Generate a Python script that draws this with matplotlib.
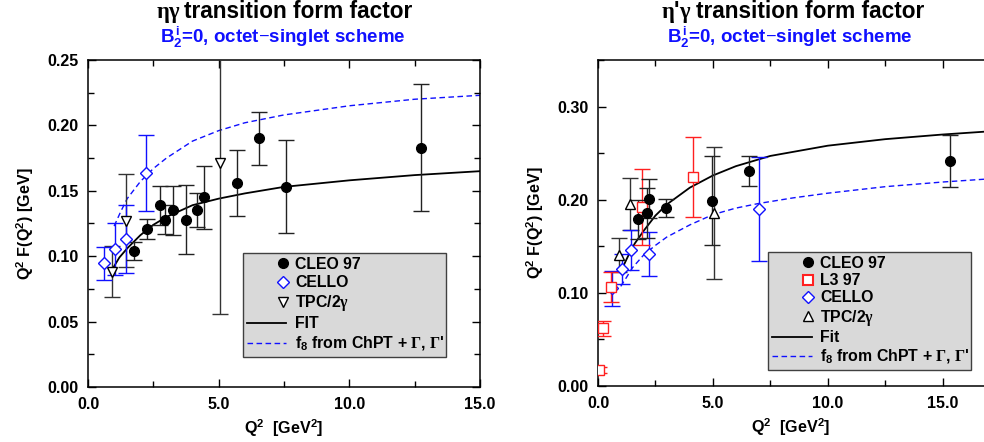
import matplotlib
matplotlib.use("Agg")
import matplotlib.pyplot as plt
from matplotlib.lines import Line2D
from matplotlib.legend_handler import HandlerLine2D
from matplotlib.ticker import MultipleLocator, FormatStrFormatter

plt.rcParams['font.family'] = ['Liberation Sans', 'DejaVu Sans']
plt.rcParams['font.weight'] = 'bold'
plt.rcParams['mathtext.fontset'] = 'custom'
plt.rcParams['mathtext.rm'] = 'Liberation Serif'
plt.rcParams['mathtext.bf'] = 'Liberation Sans:bold'
plt.rcParams['mathtext.it'] = 'Liberation Sans:bold'

# ---- eta gamma (left panel) ----
cleo_eta_q2 = [1.76, 2.24, 2.75, 2.95, 3.24, 3.74, 4.16, 4.45, 5.69, 6.56, 7.58, 12.73]
cleo_eta_val = [0.104, 0.121, 0.139, 0.128, 0.135, 0.128, 0.135, 0.145, 0.156, 0.190, 0.153, 0.183]
cleo_eta_err = [0.007, 0.0075, 0.015, 0.011, 0.0185, 0.0265, 0.013, 0.024, 0.025, 0.020, 0.0355, 0.0485]

cello_eta_q2 = [0.62, 1.05, 1.44, 2.23]
cello_eta_val = [0.0945, 0.1055, 0.113, 0.1634]
cello_eta_err = [0.0125, 0.020, 0.026, 0.029]

tpc_eta_q2 = [0.93, 1.44, 5.05]
tpc_eta_val = [0.088, 0.127, 0.1715]
tpc_eta_err = [0.0195, 0.0355, 0.1155]

fit_eta_q2 = [0.93, 1.2, 1.5, 2.0, 2.5, 3.0, 4.0, 5.0, 6.0, 7.5, 10.0, 12.5, 15.0]
fit_eta_val = [0.090, 0.099, 0.106, 0.116, 0.124, 0.130, 0.139, 0.144, 0.148, 0.153, 0.158, 0.162, 0.165]

f8_eta_q2 = [1.0, 1.25, 1.5, 2.0, 2.5, 3.0, 4.0, 5.0, 6.0, 7.5, 10.0, 12.5, 15.0]
f8_eta_val = [0.123, 0.134, 0.144, 0.157, 0.167, 0.175, 0.188, 0.196, 0.202, 0.208, 0.215, 0.220, 0.223]

# ---- eta' gamma (right panel) ----
cleo_etap_q2 = [1.73, 2.12, 2.23, 2.96, 4.94, 6.58, 15.33]
cleo_etap_val = [0.179, 0.186, 0.201, 0.191, 0.199, 0.231, 0.242]
cleo_etap_err = [0.021, 0.027, 0.021, 0.010, 0.048, 0.016, 0.028]

l3_q2 = [0.06, 0.23, 0.55, 1.90, 4.14]
l3_val = [0.017, 0.062, 0.106, 0.192, 0.224]
l3_err = [0.003, 0.008, 0.016, 0.041, 0.043]

cello_etap_q2 = [0.62, 1.03, 1.45, 2.23, 7.01]
cello_etap_val = [0.1047, 0.1258, 0.146, 0.1416, 0.190]
cello_etap_err = [0.019, 0.016, 0.021, 0.024, 0.056]

tpc_etap_q2 = [0.90, 1.39, 5.06]
tpc_etap_val = [0.1405, 0.1953, 0.1857]
tpc_etap_err = [0.018, 0.028, 0.071]

fit_etap_q2 = [1.03, 1.3, 1.6, 2.0, 2.5, 3.0, 4.0, 5.0, 6.0, 7.5, 10.0, 12.5, 15.0, 16.8]
fit_etap_val = [0.125, 0.139, 0.153, 0.167, 0.183, 0.195, 0.213, 0.226, 0.236, 0.247, 0.258, 0.265, 0.270, 0.273]

f8_etap_q2 = [0.99, 1.25, 1.5, 2.0, 2.5, 3.0, 4.0, 5.0, 6.0, 7.0, 8.5, 10.0, 12.5, 15.0, 16.8]
f8_etap_val = [0.107, 0.117, 0.127, 0.141, 0.151, 0.160, 0.173, 0.184, 0.191, 0.196, 0.202, 0.207, 0.214, 0.219, 0.222]

BLUE = '#1010ff'
RED = '#ff2020'
LEG_FS = 11.4
CAP = 5.5


class MarkerRight(HandlerLine2D):
    # gnuplot-style key: marker sits at the right end of the sample
    def get_xdata(self, legend, xdescent, ydescent, width, height, fontsize):
        x = -xdescent + width - 0.25 * fontsize
        return [x - 0.5, x + 0.5], [x]


def style_axes(ax, xmax, ymax, ymajor, yminor, right_spine=True):
    ax.set_xlim(0, xmax)
    ax.set_ylim(0, ymax)
    ax.xaxis.set_major_locator(MultipleLocator(5))
    ax.xaxis.set_minor_locator(MultipleLocator(2.5))
    ax.yaxis.set_major_locator(MultipleLocator(ymajor))
    ax.yaxis.set_minor_locator(MultipleLocator(yminor))
    ax.xaxis.set_major_formatter(FormatStrFormatter('%.1f'))
    ax.yaxis.set_major_formatter(FormatStrFormatter('%.2f'))
    ax.tick_params(which='both', direction='in', top=True, right=right_spine,
                   labelsize=11.6, width=1)
    ax.tick_params(which='major', length=6, pad=7)
    ax.tick_params(which='minor', length=4)
    for lab in ax.get_xticklabels() + ax.get_yticklabels():
        lab.set_fontweight('bold')
    for s in ax.spines.values():
        s.set_linewidth(1.1)
    if not right_spine:
        ax.spines['right'].set_visible(False)
    ax.set_xlabel(r'$\mathbf{Q^2}$  [GeV$^\mathbf{2}$]', fontsize=11.6, fontweight='bold', labelpad=4)
    ax.set_ylabel(r'$\mathbf{Q^2}$ F($\mathbf{Q^2}$) [GeV]', fontsize=11.6, fontweight='bold', labelpad=8)


def data(ax, q2, val, err, marker, color, ecolor, ms, mfc):
    ax.errorbar(q2, val, yerr=err, fmt=marker, color=color, ecolor=ecolor, ms=ms,
                mfc=mfc, mec=color, mew=1, elinewidth=1, capsize=CAP, capthick=1, zorder=3)


def make_legend(ax, handles, labels, anchor, spacing):
    hmap = {h: MarkerRight() for h in handles if h.get_linestyle() == 'None'}
    leg = ax.legend(handles, labels, loc='upper left', bbox_to_anchor=anchor,
                    mode='expand', prop={'size': LEG_FS, 'weight': 'bold'},
                    handlelength=2.5, handletextpad=0.55, labelspacing=spacing, borderpad=0.25,
                    fancybox=False, framealpha=1, facecolor='#d9d9d9', edgecolor='#404040',
                    handler_map=hmap)
    leg.get_frame().set_linewidth(1)
    return leg


fig = plt.figure(figsize=(9.84, 4.42), dpi=100)

# ------------------------------------------------------------ left
ax1 = fig.add_axes([88 / 984, 55 / 442, 392 / 984, 327 / 442])
data(ax1, tpc_eta_q2, tpc_eta_val, tpc_eta_err, 'v', 'k', '#333333', 7.5, 'white')
data(ax1, cello_eta_q2, cello_eta_val, cello_eta_err, 'D', BLUE, BLUE, 6, 'white')
data(ax1, cleo_eta_q2, cleo_eta_val, cleo_eta_err, 'o', 'k', '#222222', 7, 'k')
ax1.plot(fit_eta_q2, fit_eta_val, '-', color='k', lw=1.3, zorder=2)
ax1.plot(f8_eta_q2, f8_eta_val, '--', color=BLUE, lw=1, dashes=(4, 2.5), zorder=2)
style_axes(ax1, 15, 0.25, 0.05, 0.025)

h1 = [Line2D([], [], ls='none', marker='o', color='k', ms=7),
      Line2D([], [], ls='none', marker='D', color=BLUE, mfc='white', ms=6),
      Line2D([], [], ls='none', marker='v', color='k', mfc='white', ms=7.5),
      Line2D([], [], color='k', lw=1.3),
      Line2D([], [], color=BLUE, lw=1, ls='--', dashes=(4, 2.5))]
l1 = ['CLEO 97', 'CELLO', r'TPC/2$\mathrm{\gamma}$', 'FIT',
      r'$\mathbf{f_8}$ from ChPT + $\mathrm{\Gamma}$, $\mathrm{\Gamma}$' + "'"]
make_legend(ax1, h1, l1, (0.375, 0.434, 0.559, 0.0), 0.2)

fig.text(181 / 984, 1 - 18 / 442, r'$\mathrm{\eta\gamma}$', fontsize=16.3, ha='right', va='baseline')
fig.text(184 / 984, 1 - 18 / 442, 'transition form factor', fontsize=16.3,
         fontweight='bold', ha='left', va='baseline')
fig.text(283 / 984, 1 - 43 / 442, r'$\mathbf{B_2^{\,i}}$=0, octet$-$singlet scheme', fontsize=13.5,
         fontweight='bold', color=BLUE, ha='center', va='baseline')

# ------------------------------------------------------------ right
ax2 = fig.add_axes([598 / 984, 56 / 442, 386 / 984, 326 / 442])
data(ax2, tpc_etap_q2, tpc_etap_val, tpc_etap_err, '^', 'k', '#333333', 7.5, 'white')
data(ax2, cello_etap_q2, cello_etap_val, cello_etap_err, 'D', BLUE, BLUE, 6, 'white')
data(ax2, l3_q2, l3_val, l3_err, 's', RED, RED, 6.5, 'white')
data(ax2, cleo_etap_q2, cleo_etap_val, cleo_etap_err, 'o', 'k', '#222222', 7, 'k')
ax2.plot(fit_etap_q2, fit_etap_val, '-', color='k', lw=1.3, zorder=2)
ax2.plot(f8_etap_q2, f8_etap_val, '--', color=BLUE, lw=1, dashes=(4, 2.5), zorder=2)
style_axes(ax2, 16.8, 0.35, 0.1, 0.05, right_spine=False)

h2 = [Line2D([], [], ls='none', marker='o', color='k', ms=7),
      Line2D([], [], ls='none', marker='s', color=RED, mfc='white', ms=6.5, mew=1.5),
      Line2D([], [], ls='none', marker='D', color=BLUE, mfc='white', ms=6),
      Line2D([], [], ls='none', marker='^', color='k', mfc='white', ms=7.5),
      Line2D([], [], color='k', lw=1.3),
      Line2D([], [], color=BLUE, lw=1, ls='--', dashes=(4, 2.5))]
l2 = ['CLEO 97', 'L3 97', 'CELLO', r'TPC/2$\mathrm{\gamma}$', 'Fit',
      r'$\mathbf{f_8}$ from ChPT + $\mathrm{\Gamma}$, $\mathrm{\Gamma}$' + "'"]
make_legend(ax2, h2, l2, (0.42, 0.436, 0.567, 0.0), 0.15)

fig.text(691 / 984, 1 - 18 / 442, r'$\mathrm{\eta}$' + "'" + r'$\mathrm{\gamma}$', fontsize=16.3,
         ha='right', va='baseline')
fig.text(696 / 984, 1 - 18 / 442, 'transition form factor', fontsize=16.3,
         fontweight='bold', ha='left', va='baseline')
fig.text(790 / 984, 1 - 43 / 442, r'$\mathbf{B_2^{\,i}}$=0, octet$-$singlet scheme', fontsize=13.5,
         fontweight='bold', color=BLUE, ha='center', va='baseline')

fig.savefig('out.png', dpi=100)
